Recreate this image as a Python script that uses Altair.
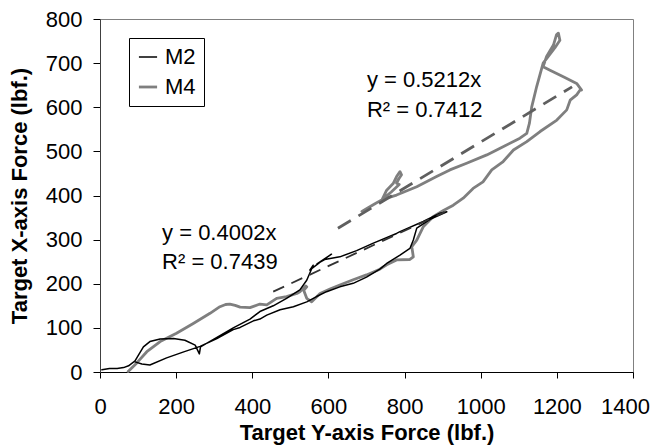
import altair as alt
import pandas as pd

# ---- data ----
m2_x = [5, 25, 45, 62, 75, 87, 92, 101, 114, 131, 158, 193, 223, 250, 261, 264,
        306, 350, 394, 420, 455, 490, 525, 543, 560, 551, 580, 608, 570, 590, 630,
        674, 718, 779, 788, 849, 893, 911, 867, 832, 823, 814, 788, 753, 735, 700,
        665, 630, 595, 569, 543, 508, 473, 438, 420, 403, 368, 350, 307, 263, 218,
        175, 131, 110, 92]
m2_y = [5, 8, 8, 10, 14, 22, 25, 38, 57, 69, 75, 76, 72, 61, 41, 57,
        78, 100, 120, 137, 150, 167, 186, 208, 242, 231, 250, 267, 245, 255, 261,
        275, 292, 314, 318, 341, 360, 363, 346, 326, 299, 280, 265, 246, 233, 215,
        201, 193, 182, 171, 159, 148, 141, 129, 120, 116, 101, 96, 76, 58, 45,
        32, 16, 18, 23]

m4_x = [74, 96, 123, 158, 201, 245, 289, 315, 330, 341, 355, 368, 394, 420, 438, 464, 490,
        517, 525, 540, 543, 535, 543, 556, 578, 604, 630, 665, 700, 735, 753, 779,
        814, 823, 819, 832, 849, 875, 902, 928, 954, 980, 1006, 1029, 1059, 1086,
        1121, 1156, 1200, 1226, 1235, 1252, 1261, 1265, 1252, 1217, 1182, 1164,
        1173, 1191, 1199, 1204, 1208, 1195, 1164, 1147, 1134, 1128, 1121, 1103,
        1051, 1016, 963, 919, 884, 832, 779, 753, 740, 753, 770, 779, 788, 792,
        785, 779, 786, 765, 740, 720, 700, 688]
m4_y = [1, 20, 46, 69, 88, 110, 133, 148, 153, 154, 151, 147, 146, 154, 152, 167, 171,
        178, 182, 195, 193, 185, 167, 159, 178, 188, 197, 209, 220, 233, 243, 254,
        255, 261, 284, 299, 329, 352, 366, 378, 394, 416, 431, 458, 477, 503,
        522, 545, 571, 594, 616, 628, 639, 639, 654, 669, 684, 692,
        715, 741, 764, 768, 752, 735, 700, 647, 601, 564, 541, 530,
        507, 492, 473, 458, 443, 420, 401, 394, 389, 412, 427, 443, 454, 447,
        438, 428, 425, 408, 390, 380, 370, 364]

# trend lines (zero-intercept fits shown on the chart)
trend_series = ["M2", "M4"]
trend_slope = [0.4002, 0.5212]
trend_x_start = [455, 625]
trend_x_end = [905, 1240]

# equation labels
label_text = ["y = 0.4002x", "R\u00b2 = 0.7439", "y = 0.5212x", "R\u00b2 = 0.7412"]
label_x = [163, 163, 701, 701]
label_y = [315, 249, 662, 594]

FONT = "Liberation Sans"

df = pd.concat([
    pd.DataFrame({"x": m2_x, "y": m2_y, "series": "M2", "idx": range(len(m2_x))}),
    pd.DataFrame({"x": m4_x, "y": m4_y, "series": "M4", "idx": range(len(m4_x))}),
])

rows = []
for s, k, a, b in zip(trend_series, trend_slope, trend_x_start, trend_x_end):
    rows.append({"series": s, "x": a, "y": k * a})
    rows.append({"series": s, "x": b, "y": k * b})
trend = pd.DataFrame(rows)

labels = pd.DataFrame({"text": label_text, "x": label_x, "y": label_y})

xs = alt.Scale(domain=[0, 1400], nice=False, zero=False)
ys = alt.Scale(domain=[0, 800], nice=False, zero=False)

x_axis = alt.Axis(
    title="Target Y-axis Force (lbf.)", values=list(range(0, 1401, 200)), format="d",
    grid=False, domainColor="black", tickColor="black", tickSize=6,
    labelFontSize=22, labelColor="black", labelPadding=18, labelFont=FONT,
    labelOverlap=False, labelFlush=False,
    labelOffset={"condition": {"test": "datum.value == 1400", "value": -8}, "value": 0},
    titleFontSize=22, titleFont=FONT, titleFontWeight="bold", titleColor="black",
    titleX=266.5, titleY=60, titleBaseline="middle", titleAlign="center",
)
y_axis = alt.Axis(
    title="Target X-axis Force (lbf.)", values=list(range(0, 801, 100)), format="d",
    grid=False, domainColor="#404040", tickColor="black", tickSize=7,
    labelFontSize=22, labelColor="black", labelPadding=11, labelFont=FONT,
    labelOverlap=False, labelFlush=False,
    titleFontSize=22, titleFont=FONT, titleFontWeight="bold", titleColor="black",
    titleX=-81, titleY=176.5, titleBaseline="middle", titleAlign="center", titleAngle=-90,
)

color_scale = alt.Scale(domain=["M2", "M4"], range=["#000000", "#7f7f7f"])
width_scale = alt.Scale(domain=["M2", "M4"], range=[1.5, 2.8])
legend = alt.Legend(title=None)

base = alt.Chart(df)

def series_layer(name):
    return base.transform_filter(alt.datum.series == name).mark_line(
        strokeJoin="round", strokeCap="round"
    ).encode(
        x=alt.X("x:Q", scale=xs, axis=x_axis),
        y=alt.Y("y:Q", scale=ys, axis=y_axis),
        order=alt.Order("idx:Q"),
        color=alt.Color("series:N", scale=color_scale, legend=legend),
        strokeWidth=alt.StrokeWidth("series:N", scale=width_scale, legend=legend),
    )

line_m4 = series_layer("M4")
line_m2 = series_layer("M2")

trend_m4 = alt.Chart(trend).transform_filter(alt.datum.series == "M4").mark_line(
    color="#5f5f5f", strokeWidth=2.8, strokeDash=[15, 9]
).encode(x=alt.X("x:Q", scale=xs), y=alt.Y("y:Q", scale=ys))

trend_m2 = alt.Chart(trend).transform_filter(alt.datum.series == "M2").mark_line(
    color="#333333", strokeWidth=1.8, strokeDash=[12, 8]
).encode(x=alt.X("x:Q", scale=xs), y=alt.Y("y:Q", scale=ys))

text = alt.Chart(labels).mark_text(
    align="left", baseline="middle", fontSize=22, font=FONT, color="black"
).encode(x=alt.X("x:Q", scale=xs), y=alt.Y("y:Q", scale=ys), text="text:N")

chart = alt.layer(line_m4, line_m2, trend_m4, trend_m2, text).properties(
    width=533, height=353,
    autosize=alt.AutoSizeParams(type="none"),
    padding={"left": 92, "top": 11, "right": 19, "bottom": 73},
    background="white",
).configure_view(
    stroke="#808080", strokeWidth=1
).configure_legend(
    orient="none", legendX=29, legendY=19,
    strokeColor="black", fillColor="white", padding=8,
    labelFontSize=22, labelFont=FONT, labelColor="black", labelOffset=6,
    symbolType="stroke", symbolSize=330, rowPadding=8,
)

chart.save("out.html", embed_options={"renderer": "svg", "actions": False})
